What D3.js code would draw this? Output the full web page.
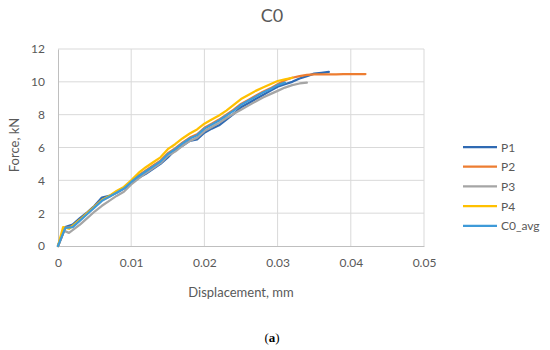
<!DOCTYPE html>
<html><head><meta charset="utf-8">
<script src="https://cdn.jsdelivr.net/npm/d3@7"></script>
<style>body{margin:0;background:#fff}svg{display:block}text{font-family:Lato,"Open Sans",sans-serif;fill:#595959}</style>
</head><body><svg id="c" width="550" height="350"></svg>
<script>
const title = "C0";
const xTicks = [0, 0.01, 0.02, 0.03, 0.04, 0.05];
const yTicks = [0, 2, 4, 6, 8, 10, 12];
const seriesNames = ["P1", "P2", "P3", "P4", "C0_avg"];
const seriesColors = ["#2F6AB3", "#ED7D31", "#A5A5A5", "#FFC000", "#3E9AD8"];

const p1X = [0,0.001,0.002,0.003,0.004,0.005,0.006,0.007,0.008,0.009,0.010,0.011,0.012,0.013,0.014,0.015,0.016,0.017,0.018,0.019,0.020,0.021,0.022,0.023,0.024,0.025,0.026,0.027,0.028,0.029,0.030,0.031,0.032,0.033,0.034,0.035,0.036,0.037];
const p1Y = [0,1.15,1.3,1.7,2.05,2.45,2.95,3.05,3.25,3.5,3.85,4.15,4.4,4.7,5.0,5.4,5.85,6.1,6.4,6.5,6.9,7.15,7.35,7.7,8.05,8.45,8.7,8.95,9.2,9.45,9.7,9.85,10.0,10.2,10.35,10.5,10.55,10.6];

const p2X = [0,0.001,0.002,0.003,0.004,0.005,0.006,0.007,0.008,0.009,0.010,0.011,0.012,0.013,0.014,0.015,0.016,0.017,0.018,0.019,0.020,0.021,0.022,0.023,0.024,0.025,0.026,0.027,0.028,0.029,0.030,0.031,0.032,0.033,0.034,0.035,0.036,0.037,0.038,0.039,0.040,0.041,0.042];
const p2Y = [0,1.1,1.2,1.6,2.0,2.4,2.8,3.0,3.3,3.55,3.9,4.3,4.6,4.9,5.2,5.65,5.95,6.3,6.6,6.8,7.2,7.45,7.7,8.0,8.3,8.65,8.9,9.15,9.4,9.6,9.85,10.1,10.25,10.35,10.42,10.45,10.45,10.46,10.46,10.47,10.47,10.47,10.47];

const p3X = [0,0.0007,0.0015,0.003,0.004,0.005,0.006,0.007,0.008,0.009,0.010,0.011,0.012,0.013,0.014,0.015,0.016,0.017,0.018,0.019,0.020,0.021,0.022,0.023,0.024,0.025,0.026,0.027,0.028,0.029,0.030,0.031,0.032,0.033,0.034];
const p3Y = [0,0.95,0.8,1.3,1.7,2.1,2.45,2.75,3.05,3.3,3.75,4.1,4.45,4.75,5.05,5.5,5.75,6.1,6.4,6.6,7.0,7.25,7.5,7.8,8.05,8.3,8.55,8.8,9.05,9.25,9.45,9.65,9.8,9.9,9.95];

const p4X = [0,0.0007,0.0015,0.003,0.004,0.005,0.006,0.007,0.008,0.009,0.010,0.011,0.012,0.013,0.014,0.015,0.016,0.017,0.018,0.019,0.020,0.021,0.022,0.023,0.024,0.025,0.026,0.027,0.028,0.029,0.030,0.031,0.032];
const p4Y = [0,1.15,1.05,1.6,2.0,2.4,2.8,3.05,3.35,3.6,4.0,4.45,4.8,5.1,5.4,5.9,6.2,6.55,6.85,7.1,7.45,7.7,7.95,8.25,8.6,8.95,9.2,9.45,9.65,9.85,10.05,10.15,10.25];

const avgX = [0,0.001,0.002,0.003,0.004,0.005,0.006,0.007,0.008,0.009,0.010,0.011,0.012,0.013,0.014,0.015,0.016,0.017,0.018,0.019,0.020,0.021,0.022,0.023,0.024,0.025,0.026,0.027,0.028,0.029,0.030,0.031];
const avgY = [0,1.1,1.15,1.55,1.95,2.35,2.75,3.0,3.25,3.5,3.9,4.25,4.55,4.85,5.15,5.6,5.9,6.25,6.55,6.75,7.15,7.4,7.65,7.95,8.25,8.6,8.85,9.1,9.35,9.55,9.8,9.95];

const seriesX = [p1X, p2X, p3X, p4X, avgX];
const seriesY = [p1Y, p2Y, p3Y, p4Y, avgY];

const svg = d3.select("#c");
const mLeft = 58, mRight = 424, mTop = 49, mBottom = 246;
const x = d3.scaleLinear().domain([0, 0.05]).range([mLeft, mRight]);
const y = d3.scaleLinear().domain([0, 12]).range([mBottom, mTop]);

// gridlines
svg.append("g").selectAll("line").data(yTicks.slice(1)).join("line")
  .attr("x1", mLeft).attr("x2", mRight).attr("y1", d => y(d)).attr("y2", d => y(d))
  .attr("stroke", "#d9d9d9").attr("stroke-width", 1);
svg.append("g").selectAll("line").data(xTicks.slice(1)).join("line")
  .attr("x1", d => x(d)).attr("x2", d => x(d)).attr("y1", mTop).attr("y2", mBottom)
  .attr("stroke", "#d9d9d9").attr("stroke-width", 1);

// axes
const xAxis = d3.axisBottom(x).tickValues(xTicks).tickSize(0).tickPadding(12).tickFormat(d => d === 0 ? "0" : String(+d.toFixed(2)));
const gx = svg.append("g").attr("transform", `translate(0,${mBottom})`).call(xAxis);
gx.select(".domain").attr("stroke", "#bfbfbf");
gx.selectAll("text").attr("font-size", 12).attr("fill", "#595959").style("font-family", "Lato, sans-serif");

const yAxis = d3.axisLeft(y).tickValues(yTicks).tickSize(0).tickPadding(13);
const gy = svg.append("g").attr("transform", `translate(${mLeft},0)`).call(yAxis);
gy.select(".domain").attr("stroke", "#bfbfbf");
gy.selectAll("text").attr("font-size", 12).attr("fill", "#595959").style("font-family", "Lato, sans-serif");

// lines
const line = d3.line().x(d => x(d[0])).y(d => y(d[1]));
seriesNames.forEach((n, i) => {
  const pts = seriesX[i].map((v, j) => [v, seriesY[i][j]]);
  svg.append("path").datum(pts).attr("d", line).attr("fill", "none")
    .attr("stroke", seriesColors[i]).attr("stroke-width", 2.25)
    .attr("stroke-linejoin", "round").attr("stroke-linecap", "round");
});

// title
svg.append("text").attr("x", 272).attr("y", 22).attr("text-anchor", "middle").attr("font-size", 18).text(title);
// axis titles
svg.append("text").attr("transform", "translate(19,145) rotate(-90)").attr("text-anchor", "middle").attr("font-size", 13).text("Force, kN");
svg.append("text").attr("x", 241).attr("y", 297).attr("text-anchor", "middle").attr("font-size", 13).text("Displacement, mm");

// legend
const lg = svg.append("g");
seriesNames.forEach((n, i) => {
  const ly = 147 + i * 19.7;
  lg.append("line").attr("x1", 463).attr("x2", 497).attr("y1", ly).attr("y2", ly)
    .attr("stroke", seriesColors[i]).attr("stroke-width", 2.25);
  lg.append("text").attr("x", 501).attr("y", ly + 4.5).attr("font-size", 12).text(n);
});

// caption
svg.append("text").attr("x", 272).attr("y", 342).attr("text-anchor", "middle")
  .style("font-family", "'Liberation Serif', serif").attr("font-size", 13)
  .style("fill", "#000").html("(<tspan font-weight='bold'>a</tspan>)");
</script></body></html>
